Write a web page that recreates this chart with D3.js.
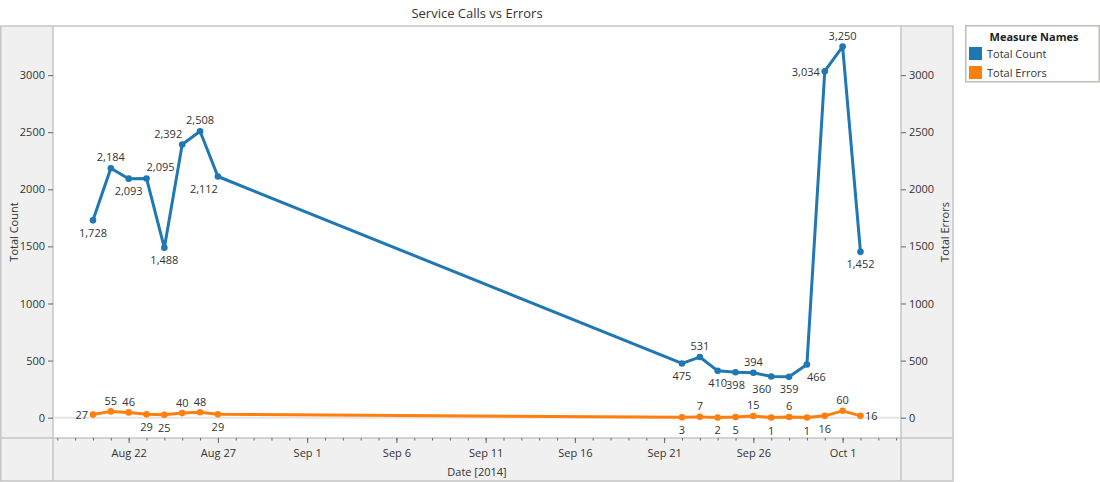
<!DOCTYPE html>
<html>
<head>
<meta charset="utf-8">
<script src="https://cdn.jsdelivr.net/npm/d3@7"></script>
<style>
  html, body { margin: 0; padding: 0; background: #fff; }
  svg { display: block; font-family: "Open Sans", "Noto Sans", sans-serif; }
  .tick text { fill: #333; }
</style>
</head>
<body>
<svg id="chart" width="1100" height="482"></svg>
<script>
// ---------- data ----------
const dates = [
  "2014-08-20","2014-08-21","2014-08-22","2014-08-23","2014-08-24","2014-08-25","2014-08-26","2014-08-27",
  "2014-09-22","2014-09-23","2014-09-24","2014-09-25","2014-09-26","2014-09-27","2014-09-28","2014-09-29",
  "2014-09-30","2014-10-01","2014-10-02"
];
const totalCount = [1728, 2184, 2093, 2095, 1488, 2392, 2508, 2112,
  475, 531, 410, 398, 394, 360, 359, 466, 3034, 3250, 1452];
const totalErrors = [27, 55, 46, 29, 25, 40, 48, 29,
  3, 7, 2, 5, 15, 1, 6, 1, 16, 60, 16];
// label placement codes (t=top, b=bottom, l=left, r=right, tl/tr/bl/br)
const countLabelPos = ["b","t","b","tr","b","tl","t","bl",
  "b","t","b","b","t","bl","b","br","l","t","b"];
const errorLabelPos = ["l","t","t","b","b","t","t","b",
  "b","t","b","b","t","b","t","b","b","t","r"];
const yTicks = [0, 500, 1000, 1500, 2000, 2500, 3000];
const seriesNames = ["Total Count", "Total Errors"];
const seriesColors = ["#1f77b4", "#ff7f0e"];
const xDomain = ["2014-08-17T18:15", "2014-10-04T06:30"];
const yDomain = [-178, 3430];

// ---------- layout ----------
const svg = d3.select("#chart");
const plot = { left: 53, right: 901, top: 26, bottom: 438 };
const frameRight = 953, frameBottom = 481;
const parseDay = d3.utcParse("%Y-%m-%d");
const parseDT = d3.utcParse("%Y-%m-%dT%H:%M");
const fmtComma = d3.format(",");

const x = d3.scaleUtc().domain(xDomain.map(parseDT)).range([plot.left, plot.right]);
const y = d3.scaleLinear().domain(yDomain).range([plot.bottom, plot.top]);

const txt = "#333";
const border = "#c6c6c6";

// panels
svg.append("rect").attr("x", 0).attr("y", plot.top).attr("width", plot.left).attr("height", frameBottom - plot.top).attr("fill", "#f0f0f0");
svg.append("rect").attr("x", plot.right).attr("y", plot.top).attr("width", frameRight - plot.right).attr("height", frameBottom - plot.top).attr("fill", "#f0f0f0");
svg.append("rect").attr("x", plot.left).attr("y", plot.bottom).attr("width", plot.right - plot.left).attr("height", frameBottom - plot.bottom).attr("fill", "#f0f0f0");

// frame lines
const frame = svg.append("g").attr("stroke", border).attr("stroke-width", 1.5).attr("fill", "none");
frame.append("rect").attr("x", 0.75).attr("y", plot.top).attr("width", frameRight - 0.75).attr("height", frameBottom - plot.top);
frame.append("line").attr("x1", plot.left).attr("x2", plot.left).attr("y1", plot.top).attr("y2", frameBottom);
frame.append("line").attr("x1", plot.right).attr("x2", plot.right).attr("y1", plot.top).attr("y2", frameBottom);
frame.append("line").attr("x1", 0).attr("x2", frameRight).attr("y1", plot.bottom).attr("y2", plot.bottom);

// zero line
svg.append("line").attr("x1", plot.left + 1).attr("x2", plot.right - 1)
  .attr("y1", y(0)).attr("y2", y(0)).attr("stroke", "#e4e4e4").attr("stroke-width", 2);

// title
svg.append("text").attr("x", (plot.left + plot.right) / 2).attr("y", 13)
  .attr("text-anchor", "middle").attr("dominant-baseline", "central")
  .attr("font-size", 13).attr("fill", txt).text("Service Calls vs Errors");

// left / right axes
function styleAxis(g) {
  g.attr("color", txt).attr("font-family", null).attr("font-size", 11);
  g.select(".domain").remove();
  g.selectAll(".tick line").attr("stroke", "#666");
  g.selectAll(".tick text").attr("font-size", 11).attr("fill", txt);
}
svg.append("g").attr("transform", `translate(${plot.left},0)`)
  .call(d3.axisLeft(y).tickValues(yTicks).tickSize(5).tickPadding(3).tickFormat(d3.format("d")))
  .call(styleAxis);
svg.append("g").attr("transform", `translate(${plot.right},0)`)
  .call(d3.axisRight(y).tickValues(yTicks).tickSize(5).tickPadding(3).tickFormat(d3.format("d")))
  .call(styleAxis);

// axis titles
svg.append("text").attr("transform", `translate(13,${(plot.top + plot.bottom) / 2}) rotate(-90)`)
  .attr("text-anchor", "middle").attr("dominant-baseline", "central")
  .attr("font-size", 11).attr("fill", txt).text("Total Count");
svg.append("text").attr("transform", `translate(944,${(plot.top + plot.bottom) / 2}) rotate(-90)`)
  .attr("text-anchor", "middle").attr("dominant-baseline", "central")
  .attr("font-size", 11).attr("fill", txt).text("Total Errors");

// bottom axis: minor daily ticks + major every 5 days
const minorTicks = d3.utcDay.range(d3.utcDay.ceil(x.domain()[0]), x.domain()[1]);
svg.append("g").attr("transform", `translate(0,${plot.bottom})`)
  .call(d3.axisBottom(x).tickValues(minorTicks).tickSize(2.5).tickFormat(""))
  .call(styleAxis);

const major = [];
for (let d = parseDay("2014-08-22"); d < x.domain()[1]; d = d3.utcDay.offset(d, 5)) major.push(d);
svg.append("g").attr("transform", `translate(0,${plot.bottom})`)
  .call(d3.axisBottom(x).tickValues(major).tickSize(5).tickPadding(6).tickFormat(d3.utcFormat("%b %-d")))
  .call(styleAxis);

svg.append("text").attr("x", (plot.left + plot.right) / 2).attr("y", 471)
  .attr("text-anchor", "middle").attr("dominant-baseline", "central")
  .attr("font-size", 11).attr("fill", txt).text("Date [2014]");

// ---------- series ----------
function drawSeries(values, color, posCodes, up, down) {
  const pts = dates.map((d, i) => ({ date: parseDay(d), v: values[i], pos: posCodes[i] }));
  const line = d3.line().x(d => x(d.date)).y(d => y(d.v));
  svg.append("path").datum(pts).attr("d", line)
    .attr("fill", "none").attr("stroke", color).attr("stroke-width", 3)
    .attr("stroke-linejoin", "round");
  svg.append("g").selectAll("circle").data(pts).join("circle")
    .attr("cx", d => x(d.date)).attr("cy", d => y(d.v)).attr("r", 3.3).attr("fill", color);
  svg.append("g").selectAll("text").data(pts).join("text")
    .attr("font-size", 11).attr("fill", txt).attr("dominant-baseline", "central")
    .attr("x", d => {
      const px = x(d.date);
      if (d.pos === "l") return px - 5;
      if (d.pos === "r") return px + 4.5;
      return px;
    })
    .attr("y", d => {
      const py = y(d.v);
      if (d.pos[0] === "t") return py - up;
      if (d.pos[0] === "b") return py + down;
      return py;
    })
    .attr("text-anchor", d => {
      if (d.pos === "l" || d.pos === "tl" || d.pos === "bl") return "end";
      if (d.pos === "r" || d.pos === "tr" || d.pos === "br") return "start";
      return "middle";
    })
    .text(d => fmtComma(d.v));
}
drawSeries(totalCount, seriesColors[0], countLabelPos, 11.5, 12);
drawSeries(totalErrors, seriesColors[1], errorLabelPos, 11, 12.5);

// ---------- legend ----------
const lg = svg.append("g");
lg.append("rect").attr("x", 965.75).attr("y", 25.75).attr("width", 133.5).attr("height", 56)
  .attr("fill", "#fff").attr("stroke", "#bdbdb3").attr("stroke-width", 1.5);
lg.append("text").attr("x", 1034).attr("y", 36).attr("text-anchor", "middle")
  .attr("dominant-baseline", "central").attr("font-size", 11).attr("font-weight", "bold")
  .attr("fill", "#222").text("Measure Names");
seriesNames.forEach((name, i) => {
  lg.append("rect").attr("x", 969).attr("y", 47 + i * 19).attr("width", 13).attr("height", 13)
    .attr("fill", seriesColors[i]);
  lg.append("text").attr("x", 987).attr("y", 53.5 + i * 19).attr("dominant-baseline", "central")
    .attr("font-size", 11).attr("fill", txt).text(name);
});
</script>
</body>
</html>
